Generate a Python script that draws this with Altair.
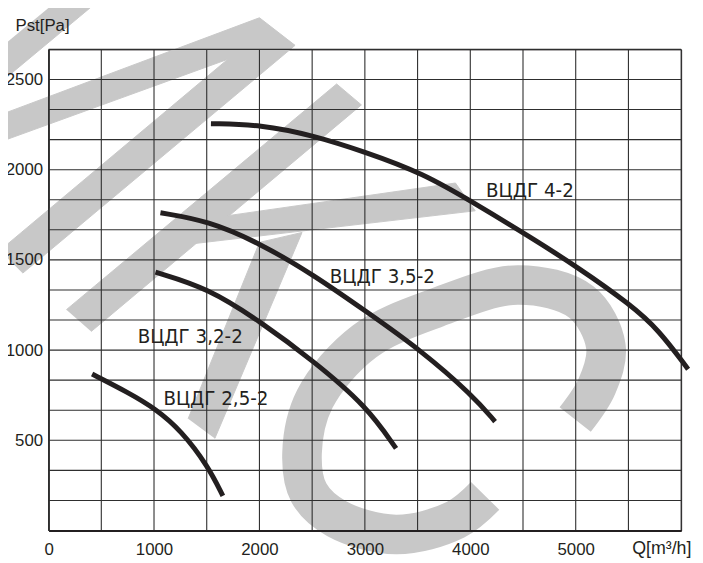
import altair as alt
import pandas as pd

# ---------------- data ----------------
# fan curves: Q [m3/h], Pst [Pa]
q_25 = [413, 761, 1014, 1258, 1512, 1653]
p_25 = [867, 763, 675, 554, 357, 192]

q_32 = [1014, 1512, 2009, 2516, 3014, 3296]
p_32 = [1432, 1344, 1158, 938, 691, 455]

q_35 = [1061, 1512, 2009, 2516, 3014, 3521, 4028, 4235]
p_35 = [1761, 1717, 1591, 1416, 1213, 1004, 746, 604]

q_40 = [1540, 2009, 2516, 2986, 3549, 4047, 4545, 5033, 5521, 5784, 6066]
p_40 = [2255, 2250, 2189, 2101, 1981, 1811, 1635, 1454, 1251, 1114, 894]

series_names = ["ВЦДГ 2,5-2", "ВЦДГ 3,2-2", "ВЦДГ 3,5-2", "ВЦДГ 4-2"]

# curve labels (anchor = left / middle of text)
label_text = ["ВЦДГ 4-2", "ВЦДГ 3,5-2", "ВЦДГ 3,2-2", "ВЦДГ 2,5-2"]
label_q = [4150, 2667, 845, 1089]
label_p = [1882, 1405, 1070, 730]

# axis ticks / grid
x_grid = list(range(0, 6001, 500))
x_labels = [0, 1000, 2000, 3000, 4000, 5000]
y_grid = [round(k * 500 / 3, 2) for k in range(17)]
y_labels = [500, 1000, 1500, 2000, 2500]

# background watermark ("KC" logo), in data units
wm_polys = {
    "a": ([169, 563, -554, -554], [2979, 2979, 2436, 2628]),
    "bc": ([-554, 2000, 2338, -244, -460, 1700, -554], [2283, 2842, 2689, 1427, 1553, 2612, 2134]),
    "d": ([169, 2732, 2967, 404], [1224, 2475, 2359, 1103]),
    "e": ([1700, 3859, 4047, 1390], [1745, 1926, 1772, 1591]),
    "f": ([1324, 2000, 2404, 1577], [620, 1597, 1652, 510]),
}
wm_c_q = [4995, 5202, 5286, 5052, 4451, 3681, 2995, 2526, 2404, 2469, 2732, 3296, 3859, 4141]
wm_c_p = [615, 801, 1021, 1267, 1361, 1235, 1048, 730, 428, 209, 66, -22, 60, 192]

# ---------------- tables ----------------
rows = []
for name, qs, ps in zip(series_names, [q_25, q_32, q_35, q_40], [p_25, p_32, p_35, p_40]):
    for i, (q, p) in enumerate(zip(qs, ps)):
        rows.append({"series": name, "i": i, "Q": q, "P": p})
curves_df = pd.DataFrame(rows)

labels_df = pd.DataFrame({"text": label_text, "Q": label_q, "P": label_p})

poly_rows = []
for pid, (xs, ys) in wm_polys.items():
    for i, (x, y) in enumerate(zip(xs, ys)):
        poly_rows.append({"poly": pid, "i": i, "Q": x, "P": y})
poly_df = pd.DataFrame(poly_rows)
c_df = pd.DataFrame({"i": list(range(len(wm_c_q))), "Q": wm_c_q, "P": wm_c_p})

xg_df = pd.DataFrame({"Q": x_grid})
yg_df = pd.DataFrame({"P": y_grid})

GRAY = "#c8c8c8"
INK = "#231f20"
GRID = "#2e2e2e"
FONT = "Liberation Sans"
NARROW = "DejaVu Sans Condensed, sans-serif"

xscale = alt.Scale(domain=[0, 6000], nice=False, zero=False)
yscale = alt.Scale(domain=[0, 2666.67], nice=False, zero=False)

xaxis = alt.Axis(
    values=x_labels, grid=False, ticks=False, format="d", labelFlush=False,
    labelFont=FONT, labelFontSize=17, labelColor=INK, labelPadding=11,
    domainColor=INK, domainWidth=2, zindex=1,
    title="Q[m³/h]", titleFont=FONT, titleFontSize=18, titleFontWeight="normal",
    titleColor=INK, titleAngle=0, titleAlign="left", titleBaseline="alphabetic",
    titleX=589, titleY=23,
)
yaxis = alt.Axis(
    values=y_labels, grid=False, ticks=False, format="d", labelFlush=False,
    labelFont=FONT, labelFontSize=17, labelColor=INK, labelPadding=6,
    domainColor=GRID, domainWidth=1.5, zindex=1,
    title="Pst[Pa]", titleFont=FONT, titleFontSize=17, titleFontWeight="normal",
    titleColor=INK, titleAngle=0, titleAlign="left", titleBaseline="alphabetic",
    titleX=-34, titleY=-19,
)

polys = alt.Chart(poly_df).mark_line(fill=GRAY, stroke=GRAY, strokeWidth=1).encode(
    x=alt.X("Q:Q", scale=xscale, axis=xaxis),
    y=alt.Y("P:Q", scale=yscale, axis=yaxis),
    detail="poly:N",
    order="i:Q",
)

c_arc = alt.Chart(c_df).mark_line(
    stroke=GRAY, strokeWidth=40, strokeCap="butt", strokeJoin="round", interpolate="catmull-rom"
).encode(x="Q:Q", y="P:Q", order="i:Q")

xg = alt.Chart(xg_df).mark_rule(color=GRID, strokeWidth=1.1).encode(x="Q:Q")
yg = alt.Chart(yg_df).mark_rule(color=GRID, strokeWidth=1.1).encode(y="P:Q")

curves = alt.Chart(curves_df).mark_line(
    color=INK, strokeWidth=5, strokeCap="butt", interpolate="basis"
).encode(x="Q:Q", y="P:Q", detail="series:N", order="i:Q")

labels = alt.Chart(labels_df).mark_text(
    align="left", baseline="middle", font=NARROW, fontSize=20.5, color=INK
).encode(x="Q:Q", y="P:Q", text="text:N")

chart = (
    alt.layer(polys, c_arc, xg, yg, curves, labels)
    .properties(
        width=639, height=486,
        autosize=alt.AutoSizeParams(type="none"),
        padding={"left": 41, "top": 39, "right": 14, "bottom": 28},
        background="white",
    )
    .configure_view(stroke=INK, strokeWidth=1)
)

chart.save("out.html", embed_options={"renderer": "svg", "actions": False})
